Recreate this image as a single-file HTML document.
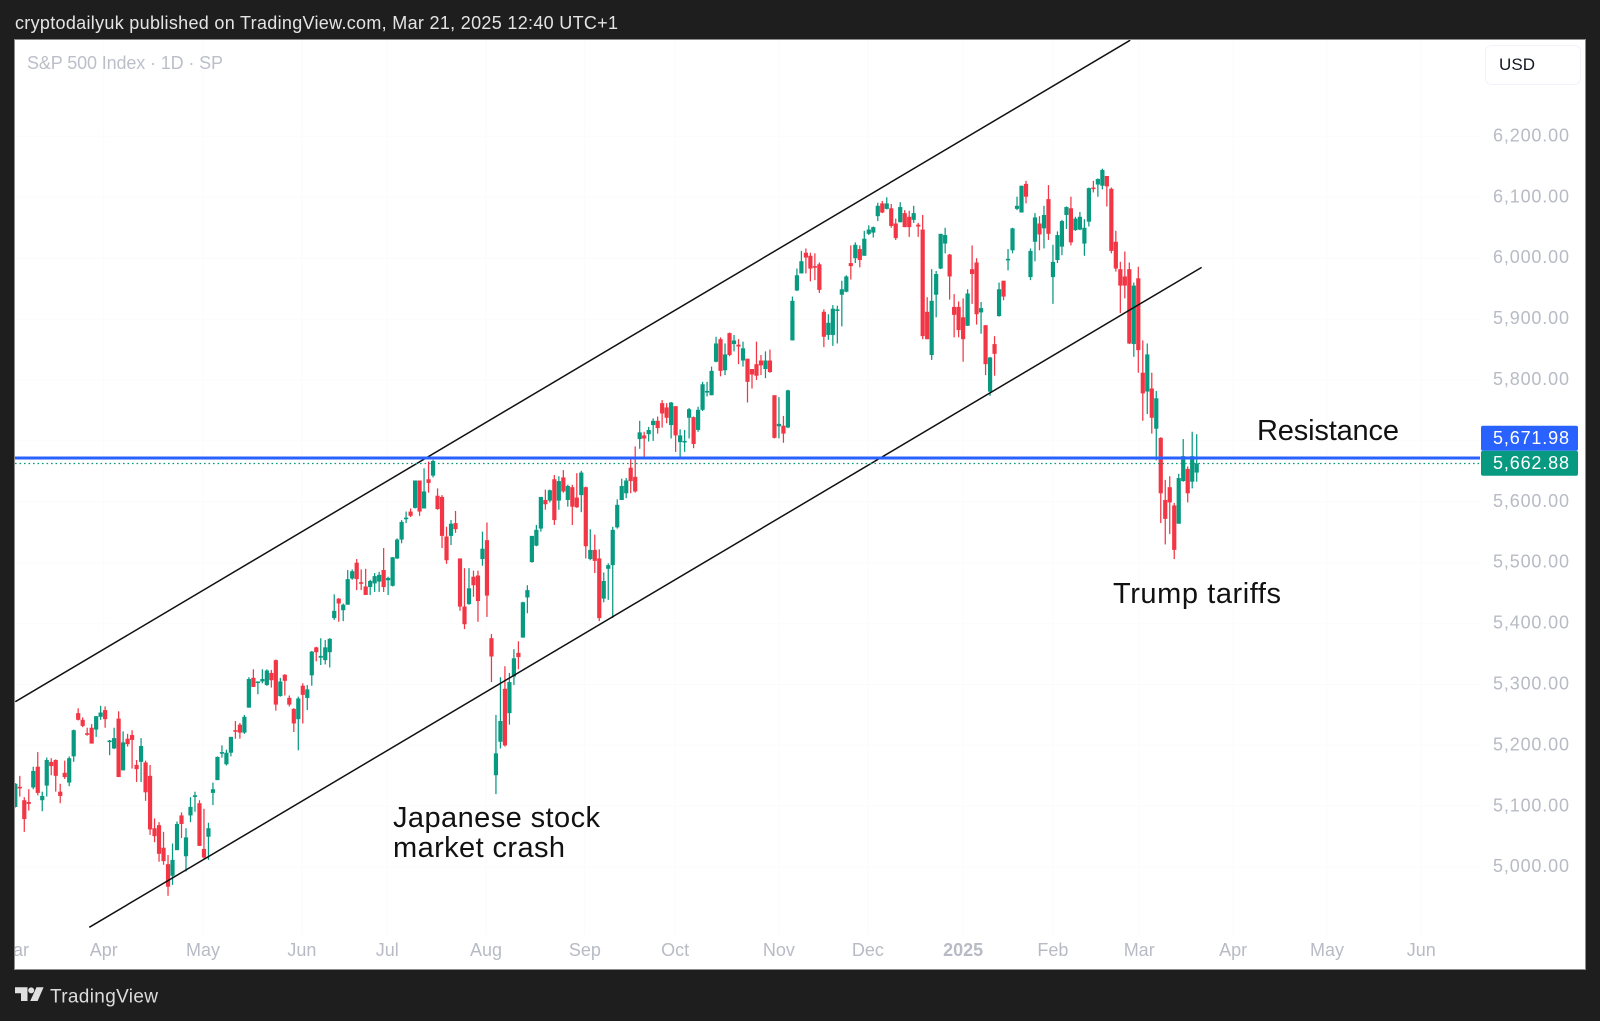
<!DOCTYPE html>
<html lang="en">
<head>
<meta charset="utf-8">
<title>S&amp;P 500 Index chart</title>
<style>
  html, body { margin: 0; padding: 0; background: #1e1e1e; }
  body { width: 1600px; height: 1021px; overflow: hidden; }
  svg { display: block; font-family: "Liberation Sans", sans-serif; }
</style>
</head>
<body>
<svg id="chart" width="1600" height="1021" viewBox="0 0 1600 1021" xmlns="http://www.w3.org/2000/svg">
  <defs>
    <clipPath id="plot-clip"><rect x="15" y="40" width="1570" height="929"></rect></clipPath>
    <clipPath id="pane-clip"><rect x="15" y="40" width="1465" height="929"></rect></clipPath>
  </defs>
  <rect x="0" y="0" width="1600" height="1021" fill="#1e1e1e"></rect>
  <text x="15" y="29" font-size="18" fill="#e4e4e4" textLength="603" lengthAdjust="spacing">cryptodailyuk published on TradingView.com, Mar 21, 2025 12:40 UTC+1</text>
  <rect x="14.5" y="39.5" width="1571" height="930" fill="#ffffff" stroke="#8c8c8c" stroke-width="1"></rect>
  <g id="grid" clip-path="url(#plot-clip)"></g>
  <g id="candles" clip-path="url(#plot-clip)"></g>
  <g id="lines" clip-path="url(#pane-clip)"></g>
  <g id="y-axis"></g>
  <g id="x-axis" clip-path="url(#plot-clip)"></g>

  <text x="27" y="69" font-size="18" fill="#bcbfc9" textLength="196" lengthAdjust="spacing">S&amp;P 500 Index · 1D · SP</text>
  <g>
    <rect x="1485.5" y="45.5" width="95" height="39" rx="6" fill="#ffffff" stroke="#f0f3fa"></rect>
    <text x="1499" y="70" font-size="17" fill="#131722" textLength="36" lengthAdjust="spacing">USD</text>
  </g>

  <g id="price-labels"></g>

  <text x="1257" y="440" font-size="29" fill="#111111" textLength="142" lengthAdjust="spacing">Resistance</text>
  <text x="1113" y="603" font-size="29" fill="#111111" textLength="168" lengthAdjust="spacing">Trump tariffs</text>
  <text x="393" y="827" font-size="29" fill="#111111" textLength="207" lengthAdjust="spacing">Japanese stock</text>
  <text x="393" y="857" font-size="29" fill="#111111" textLength="172" lengthAdjust="spacing">market crash</text>

  <g fill="#e0e0e0">
    <path d="M15 987.3H27.5V1001H21V993.3H15Z"></path>
    <circle cx="31.2" cy="990.4" r="3"></circle>
    <path d="M36.5 987.3H43.6L37.6 1001H30.2Z"></path>
  </g>
  <text x="50" y="1002.5" font-size="19" fill="#dcdcdc" textLength="108" lengthAdjust="spacing">TradingView</text>
</svg>

<script>
// ---- Daily S&P 500 values ----
const opens = [
5099,5132,5110,5107,5131,5165,5110,5134,5173,5176,
5124,5155,5139,5182,5253,5242,5220,5229,5226,5247,
5258,5206,5195,5244,5159,5211,5217,5168,5173,5172,
5150,5064,5069,5032,5005,4986,5028,5085,5018,5085,
5116,5105,5030,5050,5122,5143,5187,5169,5188,5225,
5234,5221,5262,5311,5303,5305,5299,5319,5340,5281,
5316,5278,5260,5243,5298,5278,5315,5361,5344,5340,
5353,5409,5441,5422,5431,5474,5500,5468,5461,5460,
5466,5469,5488,5471,5462,5507,5538,5572,5584,5590,
5635,5589,5637,5643,5610,5608,5543,5544,5565,5507,
5428,5432,5477,5479,5506,5537,5376,5151,5206,5293,
5253,5313,5352,5377,5443,5501,5528,5556,5603,5602,
5637,5602,5640,5603,5624,5607,5611,5624,5506,5521,
5507,5441,5490,5496,5558,5603,5614,5656,5641,5703,
5709,5711,5726,5733,5762,5755,5726,5757,5698,5699,
5738,5739,5718,5751,5780,5775,5830,5867,5816,5877,
5859,5858,5832,5835,5818,5826,5832,5818,5832,5775,
5724,5725,5722,5865,5947,5975,6009,6004,5987,5990,
5912,5874,5874,5914,5940,5945,5992,6000,6015,6004,
6040,6042,6069,6090,6081,6082,6057,6059,6074,6068,
6063,6055,6047,5912,5841,5940,5983,6024,6006,5920,
5920,5903,5889,5982,5993,5911,5890,5781,5859,5905,
5963,5997,6013,6081,6075,6122,5969,6027,6057,6049,
6097,5969,5997,6019,6071,6082,6046,6047,6024,6060,
6116,6121,6119,6135,6114,6027,5982,5970,5982,5859,
5967,5812,5781,5786,5720,5705,5603,5624,5594,5564,
5634,5654,5633,5648];
const closes = [
5137,5130,5079,5104,5158,5122,5117,5176,5166,5150,
5117,5148,5179,5225,5242,5232,5219,5203,5248,5254,
5243,5208,5212,5148,5205,5202,5209,5161,5199,5123,
5062,5051,5022,5010,4968,5012,5071,5071,5049,5099,
5118,5035,5016,5064,5128,5181,5189,5188,5214,5224,
5221,5247,5309,5296,5305,5309,5323,5307,5267,5305,
5306,5267,5236,5277,5283,5292,5354,5353,5347,5361,
5375,5421,5433,5431,5473,5486,5473,5467,5447,5470,
5478,5480,5460,5475,5509,5538,5567,5574,5577,5635,
5584,5617,5631,5667,5588,5544,5504,5564,5555,5428,
5399,5458,5463,5437,5523,5446,5346,5187,5240,5200,
5304,5343,5345,5435,5455,5544,5554,5608,5596,5619,
5570,5634,5617,5626,5592,5591,5648,5527,5521,5503,
5409,5470,5496,5554,5595,5626,5635,5634,5617,5714,
5704,5718,5733,5721,5745,5738,5763,5709,5709,5700,
5752,5695,5751,5793,5782,5815,5860,5815,5842,5841,
5865,5855,5852,5797,5809,5807,5824,5832,5813,5705,
5728,5712,5783,5930,5972,5995,6001,5983,5986,5948,
5871,5894,5917,5916,5949,5970,5987,6022,5997,6032,
6047,6051,6086,6075,6090,6053,6033,6084,6051,6051,
6074,6052,5872,5867,5930,5974,6040,6038,5970,5907,
5882,5867,5942,5974,5908,5918,5826,5837,5843,5949,
5937,5999,6049,6086,6119,6101,6012,6067,6039,6071,
6040,5994,6038,6061,6084,6026,6065,6068,6050,6115,
6114,6130,6145,6118,6012,5983,5955,5955,5860,5955,
5849,5778,5842,5738,5770,5614,5572,5599,5521,5639,
5675,5614,5675,5663];
const highs = [
5138,5150,5115,5128,5165,5189,5124,5180,5179,5177,
5137,5175,5182,5226,5261,5246,5229,5235,5248,5265,
5264,5209,5229,5256,5223,5219,5225,5176,5212,5175,
5168,5080,5074,5058,5020,5039,5075,5090,5064,5115,
5124,5110,5096,5073,5139,5182,5200,5193,5214,5240,
5237,5250,5312,5325,5305,5325,5325,5324,5341,5311,
5317,5282,5261,5280,5302,5299,5355,5362,5376,5373,
5376,5448,5442,5433,5488,5489,5506,5489,5490,5472,
5483,5485,5524,5477,5509,5540,5570,5584,5589,5635,
5635,5655,5666,5669,5622,5611,5559,5570,5585,5507,
5491,5491,5487,5487,5551,5566,5383,5250,5312,5330,
5319,5358,5371,5436,5463,5544,5562,5608,5620,5620,
5644,5642,5652,5628,5628,5647,5651,5625,5555,5546,
5522,5484,5499,5559,5604,5638,5639,5671,5691,5733,
5715,5723,5737,5740,5767,5762,5764,5757,5719,5718,
5754,5740,5756,5797,5797,5822,5871,5870,5860,5878,
5874,5867,5863,5835,5818,5863,5841,5847,5850,5775,
5772,5741,5784,5937,5983,6012,6016,6009,6008,5993,
5916,5908,5923,5922,5963,5972,6021,6026,6021,6045,
6054,6052,6091,6094,6100,6089,6065,6092,6079,6078,
6086,6058,6071,5936,5982,5979,6040,6050,6007,5941,
5929,5934,5949,6021,6000,5928,5890,5838,5872,5960,
5963,6015,6050,6101,6119,6127,6016,6074,6069,6086,
6120,6022,6044,6063,6085,6101,6068,6076,6064,6116,
6127,6131,6147,6135,6116,6045,5994,6011,5993,5960,
5986,5865,5860,5812,5782,5706,5636,5642,5598,5646,
5703,5658,5715,5711];
const lows = [
5098,5116,5058,5093,5128,5118,5092,5116,5151,5124,
5105,5145,5133,5173,5241,5230,5216,5203,5214,5242,
5229,5184,5194,5148,5159,5198,5162,5140,5140,5109,
5053,5041,5009,5004,4953,4971,5028,5048,4993,5074,
5091,5035,5014,5012,5102,5143,5180,5167,5182,5211,
5211,5219,5262,5296,5284,5302,5298,5295,5257,5280,
5282,5264,5222,5192,5236,5258,5298,5338,5332,5333,
5328,5406,5403,5404,5431,5472,5455,5455,5447,5447,
5452,5452,5452,5447,5461,5506,5532,5565,5575,5589,
5577,5589,5615,5640,5587,5524,5498,5529,5549,5421,
5391,5431,5444,5403,5495,5411,5304,5120,5195,5198,
5234,5299,5325,5377,5417,5500,5527,5551,5587,5599,
5562,5587,5615,5592,5562,5590,5583,5507,5504,5483,
5404,5435,5439,5409,5556,5603,5606,5614,5615,5687,
5674,5699,5700,5712,5722,5729,5704,5682,5674,5682,
5704,5688,5715,5749,5773,5775,5829,5806,5808,5839,
5847,5826,5822,5763,5786,5800,5808,5803,5812,5704,
5704,5697,5721,5865,5946,5975,5975,5962,5964,5943,
5854,5866,5856,5860,5888,5944,5965,5992,5985,6004,
6038,6034,6061,6074,6080,6050,6030,6059,6051,6035,
6058,6035,5867,5867,5833,5903,5982,6008,5932,5870,
5870,5830,5889,5925,5891,5876,5808,5774,5807,5904,
5931,5980,6008,6079,6075,6090,5964,5995,6013,6016,
6030,5925,5992,6005,6048,6021,6045,6046,6004,6052,
6108,6101,6113,6085,6008,5978,5910,5934,5859,5838,
5812,5733,5744,5712,5668,5565,5530,5547,5506,5564,
5633,5599,5622,5633];

// Axis tick labels and the bar each month label sits on
const priceTicks = [6200,6100,6000,5900,5800,5700,5600,5500,5400,5300,5200,5100,5000];
const priceLabels = ["6,200.00","6,100.00","6,000.00","5,900.00","5,800.00","","5,600.00","5,500.00","5,400.00","5,300.00","5,200.00","5,100.00","5,000.00"];
const monthLabels = ["Mar","Apr","May","Jun","Jul","Aug","Sep","Oct","Nov","Dec","2025","Feb","Mar","Apr","May","Jun"];
const monthBars = [-0.4,19.7,41.8,63.8,82.8,104.8,126.8,146.9,170,189.8,211,231,250.2,271.1,292,313];

// Drawn levels and channel lines: [bar, price] anchors
const resistanceLevel = 5671.98;
const lastClose = 5662.88;
const upperChannel = [[0,5271.7],[248.2,6358]];
const lowerChannel = [[16.47,4901.3],[264.1,5985]];

// ---- Axis functions ----
const SVGNS = "http://www.w3.org/2000/svg";
function xOf(bar) { return 15.3 + 4.492 * bar; }
function yOf(price) { return 136.4 + (6200 - price) * 0.609; }
function make(tag, attrs, parent) {
  const el = document.createElementNS(SVGNS, tag);
  for (const k in attrs) el.setAttribute(k, attrs[k]);
  parent.appendChild(el);
  return el;
}

const UP = "#089981", DOWN = "#f23645";

// Grid
const grid = document.getElementById("grid");
priceTicks.forEach(function (p) {
  const l = make("line", {x1: 15, x2: 1480, y1: yOf(p), y2: yOf(p), stroke: "#fbfbfc", "stroke-width": 1}, grid);
  
  
});
monthBars.forEach(function (b) {
  if (b < 0) return;
  const l = make("line", {x1: xOf(b), x2: xOf(b), y1: 40, y2: 935, stroke: "#fbfbfc", "stroke-width": 1}, grid);
  
  
});

// Candles
const candlesG = document.getElementById("candles");
opens.forEach(function (o, i) {
  const c = closes[i];
  const color = c >= o ? UP : DOWN;
  const x = xOf(i);
  const g = make("g", {}, candlesG);
  
  
  const wick = make("line", {x1: x, x2: x, y1: yOf(highs[i]), y2: yOf(lows[i]), stroke: color, "stroke-width": 1.25}, g);
  
  
  const top = yOf(Math.max(o, c));
  const h = Math.max(1.6, Math.abs(yOf(o) - yOf(c)));
  const body = make("rect", {x: x - 2.1, y: top, width: 4.2, height: h, fill: color}, g);
  
  
});

// Drawings
const linesG = document.getElementById("lines");
function channelLine(pts, name) {
  const l = make("line", {x1: xOf(pts[0][0]), y1: yOf(pts[0][1]), x2: xOf(pts[1][0]), y2: yOf(pts[1][1]), stroke: "#111111", "stroke-width": 1.5}, linesG);
  
  
}
channelLine(upperChannel, 'upper-channel-line');
channelLine(lowerChannel, 'lower-channel-line');

const lastLine = make("line", {x1: 15, x2: 1480, y1: yOf(lastClose), y2: yOf(lastClose), stroke: UP, "stroke-width": 1.3, "stroke-dasharray": "1.6 2.9"}, linesG);


const resLine = make("line", {x1: 15, x2: 1480, y1: yOf(resistanceLevel), y2: yOf(resistanceLevel), stroke: "#2962ff", "stroke-width": 3}, linesG);



// Price axis
const yAxis = document.getElementById("y-axis");
priceTicks.forEach(function (p, i) {
  if (!priceLabels[i]) return;
  const t = make("text", {x: 1493, y: yOf(p) + 5, "font-size": 18, fill: "#b8bbc5", textLength: 76, lengthAdjust: "spacing"}, yAxis);
  t.textContent = priceLabels[i];
  
  
});

// Time axis
const xAxis = document.getElementById("x-axis");
monthLabels.forEach(function (m, i) {
  const isYear = m === "2025";
  const t = make("text", {x: xOf(monthBars[i]), y: 956, "font-size": 18, "text-anchor": "middle", fill: "#b8bbc5", "font-weight": isYear ? "bold" : "normal"}, xAxis);
  t.textContent = m;
  
  
});

// Price tags
const tags = document.getElementById("price-labels");
function priceTag(value, fill, top, name) {
  const r = make("rect", {x: 1481, y: top, width: 97, height: 25, rx: 2, fill: fill}, tags);
  
  
  const t = make("text", {x: 1493, y: top + 18.5, "font-size": 18, fill: "#ffffff", textLength: 76, lengthAdjust: "spacing"}, tags);
  t.textContent = value.toLocaleString("en-US", {minimumFractionDigits: 2, maximumFractionDigits: 2});
  
  
}
priceTag(resistanceLevel, "#2962ff", 425.7, 'resistance-price-tag');
priceTag(lastClose, UP, 450.7, 'last-price-tag');
</script>
</body>
</html>
